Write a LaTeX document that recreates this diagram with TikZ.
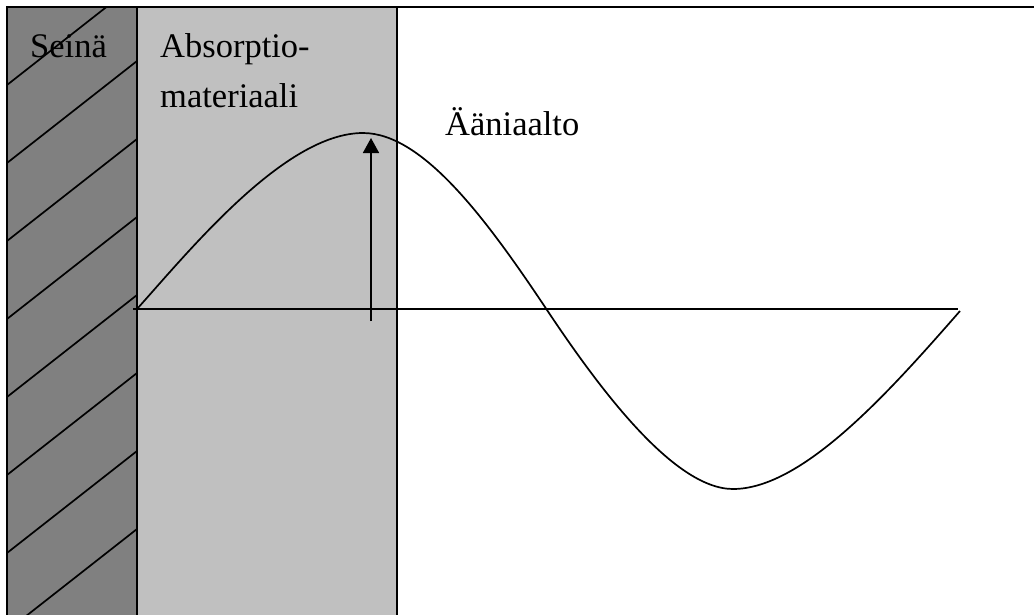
\documentclass[tikz,border=0pt]{standalone}
\usepackage{fontspec}
\setmainfont{Liberation Serif}
\usetikzlibrary{arrows.meta}
\definecolor{wallgray}{HTML}{808080}
\definecolor{absgray}{HTML}{C0C0C0}
\tikzset{
  ln/.style={line width=1.7pt, black},
  lbl/.style={inner sep=0pt, anchor=base west, font=\fontsize{34.5}{40}\selectfont},
}
\begin{document}
\begin{tikzpicture}[x=1pt, y=-1pt]
\useasboundingbox (0,0) rectangle (1034,614);
\begin{scope}
\clip (0,0) rectangle (1034,614);
% absorber
\fill[absgray] (137,7) rectangle (397,630);
% wall
\fill[wallgray] (7,7) rectangle (137,630);
% hatch lines in wall
\begin{scope}
\clip (7,7) rectangle (137,630);
\foreach \k in {0,...,7}{
  \pgfmathsetmacro{\L}{85+78*\k}
  \pgfmathsetmacro{\R}{\L-102}
  \draw[ln] (7,\L) -- (137,\R);
}
\end{scope}
% borders
\draw[ln] (7,630) -- (7,7) -- (1040,7);
\draw[ln] (137,7) -- (137,630);
\draw[ln] (397,7) -- (397,630);
\end{scope}
% labels
\node[lbl] (seina) at (30,57) {Seinä};
\node[lbl] (abs1) at (160,57) {Absorptio-};
\node[lbl] (abs2) at (160,107) {materiaali};
\node[lbl] (aalto) at (445,135) {Ääniaalto};
% axis
\coordinate (axL) at (133,309);
\coordinate (axR) at (958,309);
\draw[ln] (axL) -- (axR);
% wave
\coordinate (w0) at (137,309);
\coordinate (w1) at (363,133);
\coordinate (w2) at (547,310);
\coordinate (w3) at (733,489);
\coordinate (w4) at (960,311);
\draw[ln] (w0) .. controls (190,250) and (285,133) .. (w1)
              .. controls (423,133) and (487,220) .. (w2)
              .. controls (597,385) and (673,489) .. (w3)
              .. controls (803,489) and (890,391) .. (w4);
% amplitude arrow
\coordinate (arB) at (371,321);
\coordinate (arT) at (371,138);
\draw[ln, -{Triangle[width=16pt,length=15pt]}] (arB) -- (arT);
\end{tikzpicture}
\end{document}
